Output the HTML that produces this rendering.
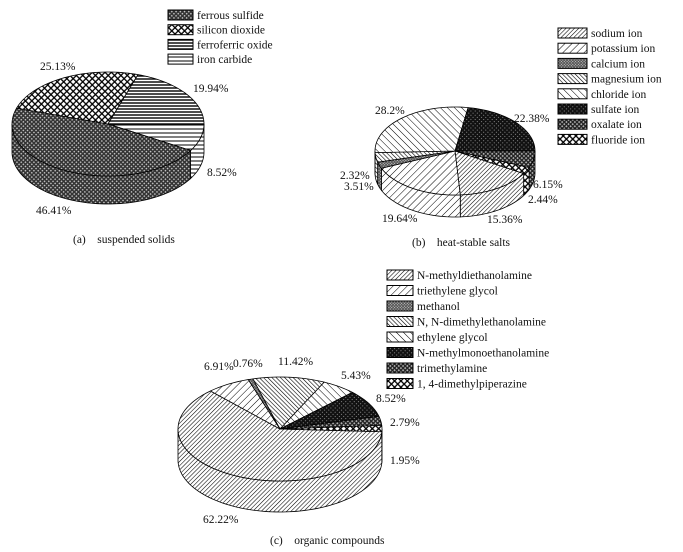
<!DOCTYPE html>
<html><head><meta charset="utf-8"><style>
body{margin:0;background:#fff;}
svg{display:block;font-family:"Liberation Serif",serif;}
text{font-size:11.5px;fill:#111;}
.cap{white-space:pre;}
</style></head><body>
<svg id="c" width="683" height="552" viewBox="0 0 683 552">
<defs>
<pattern id="pDiagDense" width="3" height="3" patternUnits="userSpaceOnUse" patternTransform="rotate(45)"><rect width="3" height="3" fill="#fff"/><line x1="0" y1="0" x2="0" y2="3" stroke="#000" stroke-width="1.1"/></pattern>
<pattern id="pDiagSparse" width="5" height="5" patternUnits="userSpaceOnUse" patternTransform="rotate(45)"><rect width="5" height="5" fill="#fff"/><line x1="0" y1="0" x2="0" y2="5" stroke="#000" stroke-width="1"/></pattern>
<pattern id="pBackDense" width="3" height="3" patternUnits="userSpaceOnUse" patternTransform="rotate(-45)"><rect width="3" height="3" fill="#fff"/><line x1="0" y1="0" x2="0" y2="3" stroke="#000" stroke-width="1.2"/></pattern>
<pattern id="pBackSparse" width="5" height="5" patternUnits="userSpaceOnUse" patternTransform="rotate(-45)"><rect width="5" height="5" fill="#fff"/><line x1="0" y1="0" x2="0" y2="5" stroke="#000" stroke-width="1"/></pattern>
<pattern id="pCrossDark" width="3" height="3" patternUnits="userSpaceOnUse" patternTransform="rotate(45)"><rect width="3" height="3" fill="#333"/><rect width="1.4" height="1.4" fill="#ccc"/></pattern>
<pattern id="pCrossOpen" width="4.5" height="4.5" patternUnits="userSpaceOnUse" patternTransform="rotate(45)"><rect width="4.5" height="4.5" fill="#000"/><rect width="3.2" height="3.2" fill="#fff"/></pattern>
<pattern id="pVeryDark" width="3" height="3" patternUnits="userSpaceOnUse" patternTransform="rotate(45)"><rect width="3" height="3" fill="#111"/><rect width="1" height="1" fill="#888"/></pattern>
<pattern id="pOxalate" width="3" height="3" patternUnits="userSpaceOnUse" patternTransform="rotate(45)"><rect width="3" height="3" fill="#222"/><rect width="1.6" height="1.6" fill="#bbb"/></pattern>
<pattern id="pCalcium" width="2" height="2" patternUnits="userSpaceOnUse" patternTransform="rotate(45)"><rect width="2" height="2" fill="#555"/><rect width="1" height="1" fill="#ccc"/></pattern>
<pattern id="pHDense" width="3" height="3" patternUnits="userSpaceOnUse"><rect width="3" height="3" fill="#fff"/><line x1="0" y1="1" x2="3" y2="1" stroke="#000" stroke-width="1.4"/></pattern>
<pattern id="pHSparse" width="4" height="4" patternUnits="userSpaceOnUse"><rect width="4" height="4" fill="#fff"/><line x1="0" y1="1" x2="4" y2="1" stroke="#000" stroke-width="1"/></pattern>
</defs>
</svg>
<script>
// Chart (a) suspended solids
const catA = ["ferrous sulfide","silicon dioxide","ferroferric oxide","iron carbide"];
const valA = [46.41, 25.13, 19.94, 8.52];
const orderA = [3, 0, 1, 2];
// Chart (b) heat-stable salts
const catB = ["sodium ion","potassium ion","calcium ion","magnesium ion","chloride ion","sulfate ion","oxalate ion","fluoride ion"];
const valB = [15.36, 19.64, 2.32, 3.51, 28.2, 22.38, 6.15, 2.44];
const orderB = [6, 7, 0, 1, 2, 3, 4, 5];
// Chart (c) organic compounds
const catC = ["N-methyldiethanolamine","triethylene glycol","methanol","N, N-dimethylethanolamine","ethylene glycol","N-methylmonoethanolamine","trimethylamine","1, 4-dimethylpiperazine"];
const valC = [62.22, 6.91, 0.76, 11.42, 5.43, 8.52, 2.79, 1.95];
const orderC = [0, 1, 2, 3, 4, 5, 6, 7];

const patA = ["pCrossDark","pCrossOpen","pHDense","pHSparse"];
const patB = ["pDiagDense","pDiagSparse","pCalcium","pBackDense","pBackSparse","pVeryDark","pOxalate","pCrossOpen"];
const patC = patB;

const NS = "http://www.w3.org/2000/svg";
const svg = document.getElementById('c');
function el(tag, attrs, parent){const e=document.createElementNS(NS,tag);for(const k in attrs)e.setAttribute(k,attrs[k]);(parent||svg).appendChild(e);return e;}

function pie(name, cx, cy, rx, ry, depth, startDeg, vals, order, pats, cats, labelPos){
  const g = el('g', {});
  
  
  const total = vals.reduce((a,b)=>a+b,0);
  const P=(a,dy)=>{const r=a*Math.PI/180;return [cx+rx*Math.cos(r), cy+ry*Math.sin(r)+dy];};
  const slices=[]; let a=startDeg;
  order.forEach(i=>{const s=a, e=a+vals[i]/total*360; slices.push({i,s,e}); a=e;});
  slices.forEach(sl=>{
    [0,360,-360].forEach(off=>{
      const s=Math.max(sl.s+off,0), e=Math.min(sl.e+off,180);
      if(e<=s) return;
      let d=''; const n=Math.max(2,Math.ceil((e-s)/2));
      for(let k=0;k<=n;k++){const p=P(s+(e-s)*k/n,0);d+=(k?'L':'M')+p[0].toFixed(2)+','+p[1].toFixed(2);}
      for(let k=n;k>=0;k--){const p=P(s+(e-s)*k/n,depth);d+='L'+p[0].toFixed(2)+','+p[1].toFixed(2);}
      const side = el('path',{d:d+'Z',fill:'url(#'+pats[sl.i]+')',stroke:'#000','stroke-width':'0.8'},g);
      
      
    });
  });
  slices.forEach(sl=>{
    let d='M'+cx+','+cy; const n=Math.max(2,Math.ceil((sl.e-sl.s)/2));
    for(let k=0;k<=n;k++){const p=P(sl.s+(sl.e-sl.s)*k/n,0);d+='L'+p[0].toFixed(2)+','+p[1].toFixed(2);}
    const top = el('path',{d:d+'Z',fill:'url(#'+pats[sl.i]+')',stroke:'#000','stroke-width':'0.8','stroke-linejoin':'round'},g);
    
    
  });
  slices.forEach(sl=>{
    const lp=labelPos[sl.i];
    const t=el('text',{x:lp[0],y:lp[1]},g);
    t.textContent=vals[sl.i]+'%';
    
    
  });
}
function legend(name, x, y, step, cats, pats, w){
  const g=el('g',{});
  
  
  cats.forEach((c,i)=>{
    const r=el('rect',{x:x,y:y+i*step-5,width:w,height:10,fill:'url(#'+pats[i]+')',stroke:'#000','stroke-width':'1'},g);
    
    
    const t=el('text',{x:x+w+4,y:y+i*step+4},g);
    t.textContent=c;
    
    
  });
}
pie('pie-suspended-solids',108,124,96,52,28,0,valA,orderA,patA,catA,
  [[36,214],[40,70],[193,92],[207,176]]);
pie('pie-heat-stable-salts',455,151,80,44,22,0,valB,orderB,patB,catB,
  [[487,223],[382,222],[340,179],[344,190],[375,114],[514,122],[533,188],[528,203]]);
pie('pie-organic-compounds',280,429,102,52,31,3,valC,orderC,patC,catC,
  [[203,523],[204,370],[233,367],[278,365],[341,379],[376,402],[390,426],[390,464]]);

legend('legend-suspended-solids',168,15,14.7,catA,patA,25);
legend('legend-heat-stable-salts',558,33,15.2,catB,patB,29);
legend('legend-organic-compounds',387,275,15.5,catC,patC,26);

[[73,243,'(a)    suspended solids','caption-a'],[412,246,'(b)    heat-stable salts','caption-b'],[270,544,'(c)    organic compounds','caption-c']].forEach(c=>{
  const t=el('text',{x:c[0],y:c[1],'class':'cap'});
  t.textContent=c[2];
  
  
});
</script>
</body></html>
